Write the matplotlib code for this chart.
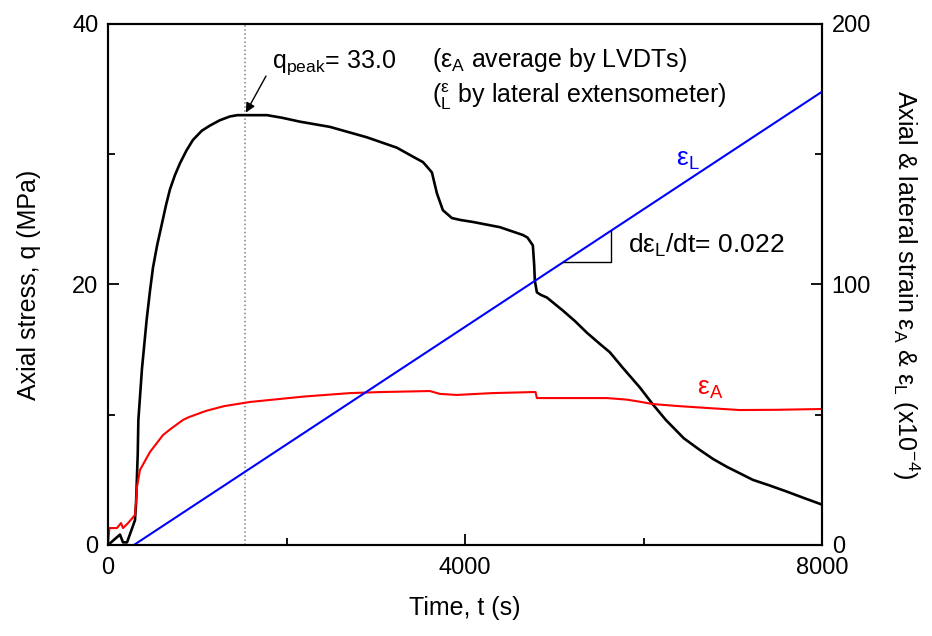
import matplotlib.pyplot as plt
import numpy as np
from matplotlib.ticker import MultipleLocator

plt.rcParams['font.family'] = ['Liberation Sans', 'DejaVu Sans']
plt.rcParams['mathtext.fontset'] = 'custom'
plt.rcParams['mathtext.rm'] = 'Liberation Sans'
plt.rcParams['mathtext.it'] = 'Liberation Sans'
plt.rcParams['mathtext.default'] = 'regular'

# deviator stress q (MPa) vs time (s)
t_q = [0, 134, 168, 213, 302, 314, 333, 340, 380, 433, 470, 504, 550, 605,
       650, 694, 750, 806, 880, 952, 1050, 1142, 1250, 1366, 1450, 1557, 1650,
       1781, 1950, 2150, 2486, 2900, 3237, 3420, 3528, 3580, 3629, 3685, 3752,
       3853, 3950, 4088, 4390, 4648, 4700, 4760, 4775, 4782, 4805, 4850, 4917,
       5096, 5230, 5365, 5500, 5622, 5768, 5958, 6104, 6250, 6450, 6630, 6780,
       6934, 7080, 7225, 7400, 7605, 7800, 8000]
q = [0, 0.8, 0.2, 0.2, 1.9, 3.2, 7.0, 9.6, 13.5, 17.3, 19.5, 21.3, 23.0, 24.7,
     26.1, 27.3, 28.4, 29.3, 30.3, 31.1, 31.8, 32.2, 32.6, 32.9, 33.0, 33.0,
     33.0, 33.0, 32.8, 32.5, 32.1, 31.3, 30.5, 29.8, 29.4, 29.0, 28.6, 27.0,
     25.7, 25.1, 24.95, 24.8, 24.4, 23.8, 23.6, 23.0, 21.5, 20.3, 19.4, 19.2,
     19.0, 18.0, 17.2, 16.3, 15.5, 14.8, 13.6, 12.1, 10.8, 9.6, 8.2, 7.3, 6.6,
     6.0, 5.5, 5.0, 4.6, 4.1, 3.6, 3.1]

# axial strain (LVDT average), x1e-4
t_a = [0, 15, 100, 146, 168, 224, 302, 315, 325, 358, 470, 616, 700, 840, 900,
       1100, 1300, 1590, 2200, 2710, 3046, 3606, 3718, 3909, 4300, 4760, 4790,
       4805, 5589, 5813, 5958, 6104, 6400, 6709, 7078, 7500, 8000]
eps_a = [0, 6.5, 6.5, 8.4, 6.5, 8.4, 11.5, 17.0, 22.3, 28.8, 35.7, 42.2, 44.5,
         48.0, 49.0, 51.5, 53.3, 54.9, 57.0, 58.3, 58.7, 59.1, 58.0, 57.6,
         58.3, 58.7, 58.7, 56.4, 56.4, 55.8, 55.0, 54.1, 53.3, 52.6, 51.8,
         51.9, 52.2]

# lateral strain (extensometer), x1e-4
t_l = [290, 8000]
eps_l = [0, 174]

t_peak = 1535
q_peak = 33.0
tri_t = [5096, 5634]

fig = plt.figure(figsize=(9.32, 6.36), dpi=100)
ax = fig.add_axes([0.1159, 0.1431, 0.7661, 0.8192])
ax2 = ax.twinx()

ax.plot(t_q, q, color='k', lw=1.9, zorder=3)
ax.axvline(t_peak, color='gray', ls=':', lw=1.1)
ax2.plot(t_a, eps_a, color='red', lw=1.5)
ax2.plot(t_l, eps_l, color='blue', lw=1.5)

# slope triangle on the lateral strain line
tri_e = np.interp(tri_t, t_l, eps_l)
ax2.plot([tri_t[0], tri_t[1], tri_t[1]], [tri_e[0], tri_e[0], tri_e[1]], color='k', lw=1)

ax.set_xlim(0, 8000)
ax.set_ylim(0, 40)
ax2.set_ylim(0, 200)
ax.xaxis.set_major_locator(MultipleLocator(4000))
ax.xaxis.set_minor_locator(MultipleLocator(2000))
ax.yaxis.set_major_locator(MultipleLocator(20))
ax.yaxis.set_minor_locator(MultipleLocator(10))
ax2.yaxis.set_major_locator(MultipleLocator(100))
ax2.yaxis.set_minor_locator(MultipleLocator(50))

for a in (ax, ax2):
    a.tick_params(which='major', direction='in', length=8, width=1.3, labelsize=17, pad=7)
    a.tick_params(which='minor', direction='in', length=5, width=1.3)
    for s in a.spines.values():
        s.set_linewidth(1.5)
ax.tick_params(axis='x', which='both', top=False, pad=9)
ax.tick_params(axis='y', which='both', right=False)

ax.set_xlabel('Time, t (s)', fontsize=18, labelpad=12)
ax.set_ylabel('Axial stress, q (MPa)', fontsize=18, labelpad=22)
ax2.set_ylabel(r'Axial & lateral strain $\varepsilon_A$ & $\varepsilon_L$ (x10$^{-4}$)',
               fontsize=18, rotation=270, labelpad=36)

ax.text(1837, 37.0, r'$q_{peak}$= 33.0', fontsize=18, va='center', ha='left')
ax.annotate('', xy=(t_peak + 10, q_peak + 0.2), xytext=(1770, 36.0),
            arrowprops=dict(arrowstyle='-|>', color='k', lw=1, mutation_scale=14,
                            shrinkA=0, shrinkB=0))
ax.text(3629, 37.2, r'($\varepsilon_A$ average by LVDTs)', fontsize=18, va='center')
ax.text(3629, 34.4, r'(${}^{\varepsilon}_{L}$ by lateral extensometer)', fontsize=18, va='center')
ax.text(6362, 29.1, r'$\varepsilon_L$', fontsize=19, color='blue', va='baseline')
ax.text(6597, 11.5, r'$\varepsilon_A$', fontsize=19, color='red', va='baseline')
ax.text(5824, 22.4, r'd$\varepsilon_L$/dt= 0.022', fontsize=19, va='baseline')

fig.savefig('out.png', dpi=100)
